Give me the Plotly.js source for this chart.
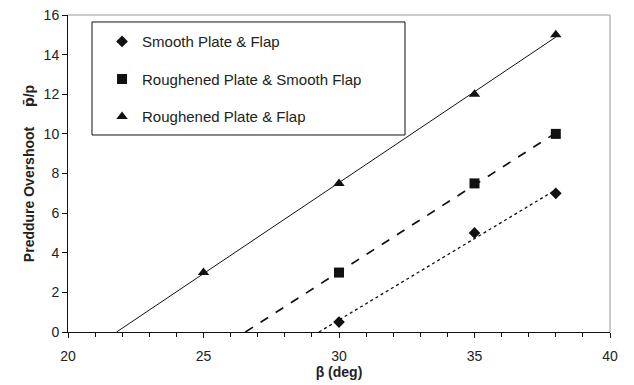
<!DOCTYPE html>
<html><head><meta charset="utf-8">
<script src="https://cdn.plot.ly/plotly-3.0.1.min.js"></script>
<style>html,body{margin:0;padding:0;background:#fff}</style>
</head><body><div id="chart" style="width:634px;height:385px"></div>
<script>
const seriesNames = ["Smooth Plate & Flap", "Roughened Plate & Smooth Flap", "Roughened Plate & Flap"];
const smoothX = [30, 35, 38];
const smoothY = [0.5, 5, 7];
const roughSmoothX = [30, 35, 38];
const roughSmoothY = [3, 7.5, 10];
const roughX = [25, 30, 35, 38];
const roughY = [3, 7.5, 12, 15];
const markerSymbols = ["diamond", "square", "triangle-up"];
const markerSizes = [9, 10, 10];
const lineDashes = ["dot", "dash", "solid"];
const lineWidths = [1.3, 1.7, 1];

function fit(xs, ys) {
  const n = xs.length;
  const mx = xs.reduce((a, b) => a + b, 0) / n;
  const my = ys.reduce((a, b) => a + b, 0) / n;
  let sxy = 0, sxx = 0;
  for (let i = 0; i < n; i++) { sxy += (xs[i] - mx) * (ys[i] - my); sxx += (xs[i] - mx) ** 2; }
  const m = sxy / sxx, b = my - m * mx;
  const x0 = -b / m, x1 = Math.max(...xs);
  return { x: [x0, x1], y: [0, m * x1 + b] };
}

const sets = [[smoothX, smoothY], [roughSmoothX, roughSmoothY], [roughX, roughY]];
const traces = [];
sets.forEach((s, i) => {
  const f = fit(s[0], s[1]);
  traces.push({ x: f.x, y: f.y, mode: "lines", showlegend: false, hoverinfo: "skip",
    line: { color: "#111", width: lineWidths[i], dash: lineDashes[i] } });
});
sets.forEach((s, i) => {
  traces.push({ x: s[0], y: s[1], mode: "markers", name: seriesNames[i], legendgroup: "g" + i,
    marker: { symbol: markerSymbols[i], size: markerSizes[i], color: "#111" } });
});

const layout = {
  width: 634, height: 385,
  margin: { l: 68, r: 24, t: 15, b: 53 },
  paper_bgcolor: "#fff", plot_bgcolor: "#fff",
  font: { family: "Liberation Sans, Arial, sans-serif", size: 14, color: "#222" },
  showlegend: true,
  legend: {
    x: 0.0628, y: 0.968, xanchor: "left", yanchor: "top",
    borderwidth: 0, bgcolor: "rgba(0,0,0,0)",
    font: { size: 15, color: "#222" },
    traceorder: "grouped", tracegroupgap: 15,
    itemwidth: 30
  },
  xaxis: {
    range: [20, 40], dtick: 5, tick0: 20,
    showgrid: false, zeroline: false,
    showline: true, linecolor: "#111", linewidth: 1,
    ticks: "outside", ticklen: 5, tickcolor: "#111",
    ticklabelstandoff: 6,
    minor: { dtick: 1, ticks: "outside", ticklen: 4, tickcolor: "#111", showgrid: false },
    tickfont: { size: 14, color: "#222" },
    title: { text: "<b>β (deg)</b>", font: { size: 14, color: "#222" }, standoff: 4 }
  },
  yaxis: {
    range: [0, 16], dtick: 2,
    showgrid: false, zeroline: false,
    showline: true, linecolor: "#111", linewidth: 1,
    ticks: "outside", ticklen: 5, tickcolor: "#111",
    tickfont: { size: 14, color: "#222" },
    title: { text: "<b>Preddure Overshoot     <span style=\"font-family:DejaVu Sans\">p\u0304</span>/p</b>", font: { size: 14, color: "#222" }, standoff: 5 }
  },
  shapes: [
    { type: "line", xref: "paper", yref: "paper", x0: 0, x1: 1, y0: 1, y1: 1, line: { color: "#999", width: 1 }, layer: "below" },
    { type: "line", xref: "paper", yref: "paper", x0: 1, x1: 1, y0: 0, y1: 1, line: { color: "#999", width: 1 }, layer: "below" },
    { type: "rect", xref: "paper", yref: "paper", x0: 0.0443, x1: 0.6218, y0: 0.6215, y1: 0.978, line: { color: "#111", width: 1 }, fillcolor: "rgba(0,0,0,0)", layer: "above" }
  ]
};

Plotly.newPlot("chart", traces, layout, { displayModeBar: false, staticPlot: true });
</script></body></html>
